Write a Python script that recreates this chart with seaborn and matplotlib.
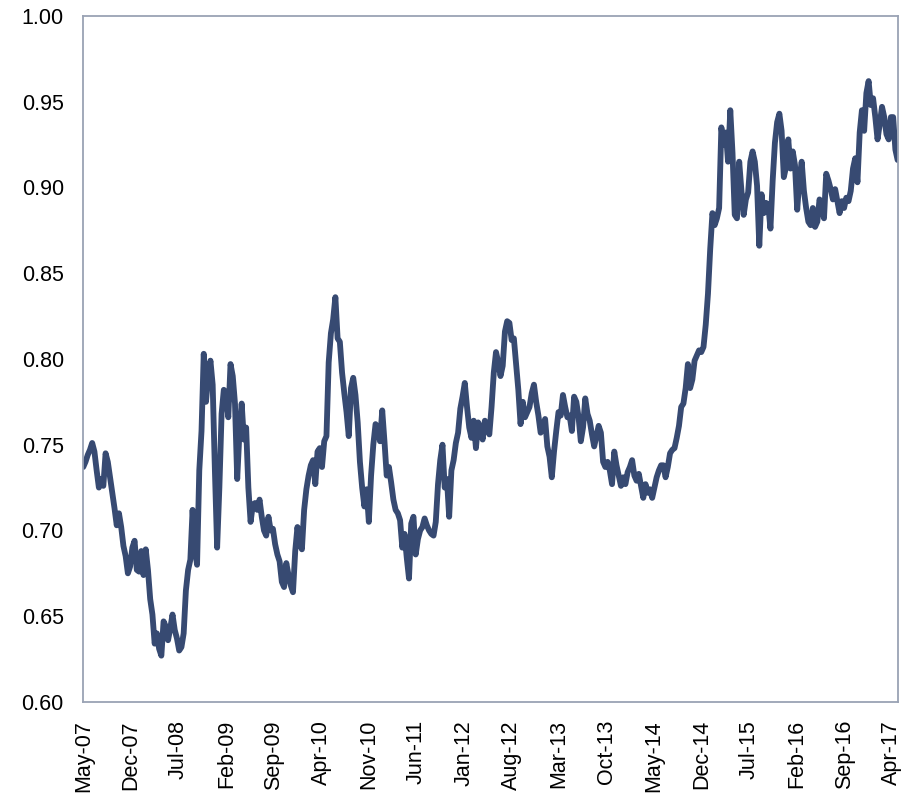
import pandas as pd
import matplotlib
matplotlib.use("Agg")
import matplotlib.pyplot as plt
import matplotlib.dates as mdates
import seaborn as sns

# Series, one value every 10 days starting 1 May 2007
start_date = "2007-05-01"
step = "10D"

values_2007_2008 = [
    0.737, 0.740, 0.744, 0.747, 0.751, 0.746, 0.735, 0.725, 0.730, 0.726,
    0.745, 0.740, 0.731, 0.722, 0.713, 0.703, 0.710, 0.702, 0.691, 0.685,
    0.675, 0.679, 0.690, 0.694, 0.677, 0.676, 0.688, 0.674, 0.689, 0.677,
    0.660, 0.651, 0.634, 0.640, 0.631, 0.627, 0.647, 0.644, 0.636, 0.643,
    0.651, 0.642, 0.637, 0.630, 0.632, 0.640, 0.665, 0.677, 0.683, 0.712,
    0.690, 0.680, 0.735, 0.758, 0.803, 0.775, 0.790, 0.799, 0.785, 0.735,
    0.690, 0.725, 0.768, 0.782, 0.780, 0.766, 0.797, 0.790, 0.774, 0.730,
    0.757, 0.774, 0.753, 0.760, 0.725,
]
values_2009_2011 = [
    0.705, 0.715, 0.716, 0.712, 0.718,
    0.708, 0.700, 0.697, 0.708, 0.700, 0.701, 0.692, 0.686, 0.682, 0.670,
    0.667, 0.681, 0.674, 0.668, 0.664, 0.688, 0.702, 0.692, 0.689, 0.712,
    0.724, 0.732, 0.738, 0.741, 0.727, 0.746, 0.748, 0.737, 0.752, 0.755,
    0.798, 0.815, 0.823, 0.836, 0.812, 0.810, 0.792, 0.780, 0.769, 0.755,
    0.783, 0.789, 0.779, 0.763, 0.740, 0.725, 0.714, 0.724, 0.705, 0.732,
    0.750, 0.762, 0.760, 0.752, 0.770, 0.752, 0.732, 0.737, 0.728, 0.718,
    0.712, 0.710, 0.706, 0.690, 0.698, 0.684, 0.672, 0.704, 0.708, 0.686,
]
values_2011_2013 = [
    0.695, 0.700, 0.702, 0.707, 0.703, 0.700, 0.698, 0.697, 0.705, 0.727,
    0.741, 0.750, 0.725, 0.730, 0.708, 0.735, 0.741, 0.751, 0.757, 0.771,
    0.778, 0.786, 0.772, 0.760, 0.754, 0.764, 0.748, 0.763, 0.760, 0.753,
    0.764, 0.760, 0.756, 0.772, 0.792, 0.804, 0.798, 0.790, 0.796, 0.816,
    0.822, 0.821, 0.811, 0.812, 0.797, 0.782, 0.762, 0.775, 0.766, 0.769,
    0.772, 0.780, 0.785, 0.775, 0.767, 0.757, 0.760, 0.765, 0.749, 0.743,
    0.731, 0.746, 0.758, 0.769, 0.767, 0.779, 0.772, 0.766, 0.767, 0.758,
    0.778, 0.775, 0.766, 0.752, 0.760, 0.777, 0.768,
]
values_2013_2014 = [
    0.764, 0.756, 0.749,
    0.755, 0.761, 0.757, 0.740, 0.737, 0.740, 0.735, 0.727, 0.746, 0.738,
    0.732, 0.726, 0.731, 0.727, 0.734, 0.737, 0.741, 0.732, 0.729, 0.733,
    0.726, 0.719, 0.727, 0.722, 0.724, 0.719, 0.725, 0.731, 0.735, 0.738,
    0.738, 0.731, 0.737, 0.745, 0.747, 0.748, 0.754, 0.761, 0.772, 0.774,
    0.783, 0.797, 0.783, 0.788, 0.799, 0.802, 0.805, 0.804, 0.807, 0.820,
    0.838, 0.864,
]
values_2015_2017 = [
    0.885, 0.878, 0.882, 0.888, 0.935, 0.925, 0.932, 0.915,
    0.945, 0.920, 0.884, 0.882, 0.915, 0.898, 0.884, 0.893, 0.897, 0.915,
    0.921, 0.915, 0.901, 0.866, 0.896, 0.885, 0.891, 0.890, 0.876, 0.904,
    0.926, 0.938, 0.943, 0.933, 0.906, 0.912, 0.928, 0.911, 0.921, 0.913,
    0.887, 0.905, 0.915, 0.898, 0.888, 0.880, 0.878, 0.888, 0.877, 0.880,
    0.893, 0.889, 0.882, 0.908, 0.904, 0.899, 0.893, 0.899, 0.892, 0.885,
    0.892, 0.888, 0.894, 0.892, 0.898, 0.911, 0.917, 0.903, 0.932, 0.945,
    0.933, 0.955, 0.962, 0.948, 0.952, 0.941, 0.928, 0.937, 0.947, 0.941,
    0.931, 0.928, 0.941, 0.941, 0.922, 0.916,
]

values = (values_2007_2008 + values_2009_2011 + values_2011_2013
          + values_2013_2014 + values_2015_2017)
df = pd.DataFrame({
    "date": pd.date_range(start_date, periods=len(values), freq=step),
    "value": values,
})

line_color = "#374A72"
frame_color = "#9AA3B4"

sns.set_style("white")
plt.rcParams["font.family"] = ["Liberation Sans", "DejaVu Sans"]

fig = plt.figure(figsize=(9.15, 7.95), dpi=100)
ax = fig.add_axes([0.091, 0.117, 0.890, 0.863])

sns.lineplot(data=df, x="date", y="value", ax=ax, color=line_color,
             linewidth=4.2, solid_joinstyle="round", solid_capstyle="round")

ax.set_xlim(pd.Timestamp(start_date), df["date"].iloc[-1])
ax.set_ylim(0.60, 1.00)
ax.set_yticks([0.60, 0.65, 0.70, 0.75, 0.80, 0.85, 0.90, 0.95, 1.00])
ax.yaxis.set_major_formatter(matplotlib.ticker.FormatStrFormatter("%.2f"))

tick_dates = pd.date_range("2007-05-01", "2017-04-01", freq="7MS")
ax.set_xticks(tick_dates)
ax.xaxis.set_major_formatter(mdates.DateFormatter("%b-%y"))
plt.setp(ax.get_xticklabels(), rotation=90)

ax.set_xlabel("")
ax.set_ylabel("")

for side in ["left", "right", "top", "bottom"]:
    ax.spines[side].set_visible(True)
    ax.spines[side].set_color(frame_color)
    ax.spines[side].set_linewidth(1.3)

ax.tick_params(axis="both", which="major", direction="out", length=5,
               width=1.2, color=frame_color, labelsize=15.5, labelcolor="black")
ax.tick_params(axis="y", pad=9)
ax.tick_params(axis="x", pad=8)
ax.tick_params(axis="x", which="minor", length=0)

fig.savefig("out.png", dpi=100)
